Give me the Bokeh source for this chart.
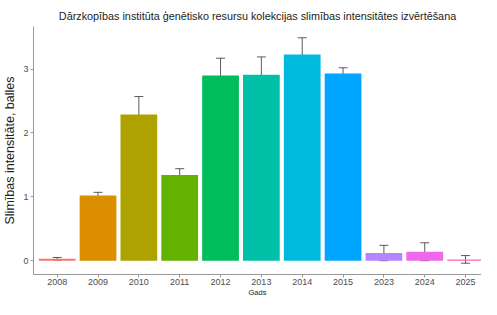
from bokeh.plotting import figure
from bokeh.models import ColumnDataSource, Range1d, Whisker, Title, FixedTicker
from bokeh.embed import file_html
from bokeh.resources import INLINE

years = ["2008", "2009", "2010", "2011", "2012", "2013", "2014", "2015", "2023", "2024", "2025"]
means = [0.03, 1.02, 2.29, 1.34, 2.90, 2.91, 3.23, 2.93, 0.12, 0.14, 0.02]
errors = [0.02, 0.05, 0.28, 0.10, 0.27, 0.28, 0.26, 0.09, 0.12, 0.14, 0.06]
colors = ["#F8766D", "#DB8E00", "#AEA200", "#64B200", "#00BD5C", "#00C1A7",
          "#00BADE", "#00A6FF", "#B385FF", "#EF67EB", "#FF63B6"]
y_ticks = [0, 1, 2, 3]

title_text = "Dārzkopības institūta ģenētisko resursu kolekcijas slimības intensitātes izvērtēšana"
x_label = "Gads"
y_label = "Slimības intensitāte, balles"

idx = list(range(len(years)))
lower = [m - e for m, e in zip(means, errors)]
upper = [m + e for m, e in zip(means, errors)]
src = ColumnDataSource(dict(x=idx, mean=means, lower=lower, upper=upper, color=colors))

lo = min(lower)
hi = max(upper)
pad = (hi - lo) * 0.05

FONT = "Liberation Sans"

p = figure(width=481, height=299, output_backend="svg", toolbar_location=None,
           x_range=Range1d(-0.58, len(years) - 1 + 0.39),
           y_range=Range1d(lo - pad, hi + pad),
           min_border_left=0, min_border_right=0, min_border_top=26, min_border_bottom=0)

p.title = Title(text=title_text, align="center", text_font=FONT, text_font_size="10.8px",
                text_font_style="normal", text_color="#222222", standoff=9, offset=0)

p.vbar(x="x", top="mean", width=0.9, source=src, fill_color="color", line_color=None)
w = Whisker(source=src, base="x", lower="lower", upper="upper",
            line_color="#333333", line_width=0.8)
for h in (w.upper_head, w.lower_head):
    h.size = 9
    h.line_color = "#333333"
    h.line_width = 0.8
p.add_layout(w)

p.xgrid.visible = False
p.ygrid.visible = False
p.outline_line_color = None
p.background_fill_color = "white"
p.border_fill_color = "white"

for ax in (p.xaxis[0], p.yaxis[0]):
    ax.axis_line_color = "#999999"
    ax.axis_line_width = 1
    ax.major_tick_line_color = "#999999"
    ax.major_tick_out = 3
    ax.major_tick_in = 0
    ax.minor_tick_line_color = None
    ax.major_label_text_font = FONT
    ax.major_label_text_font_size = "9px"
    ax.major_label_text_color = "#4D4D4D"
    ax.major_label_standoff = 2
    ax.axis_label_text_font = FONT
    ax.axis_label_text_font_style = "normal"
    ax.axis_label_text_color = "#222222"

p.xaxis.ticker = FixedTicker(ticks=idx)
p.xaxis.major_label_overrides = {i: y for i, y in zip(idx, years)}
p.xaxis.major_label_standoff = 1
p.xaxis.axis_label = x_label
p.xaxis.axis_label_text_font_size = "7.5px"
p.xaxis.axis_label_standoff = 0
p.yaxis.ticker = FixedTicker(ticks=y_ticks)
p.yaxis.axis_label = y_label
p.yaxis.axis_label_text_font_size = "12.5px"
p.yaxis.axis_label_standoff = 3

open("out.html", "w").write(file_html(p, INLINE))
